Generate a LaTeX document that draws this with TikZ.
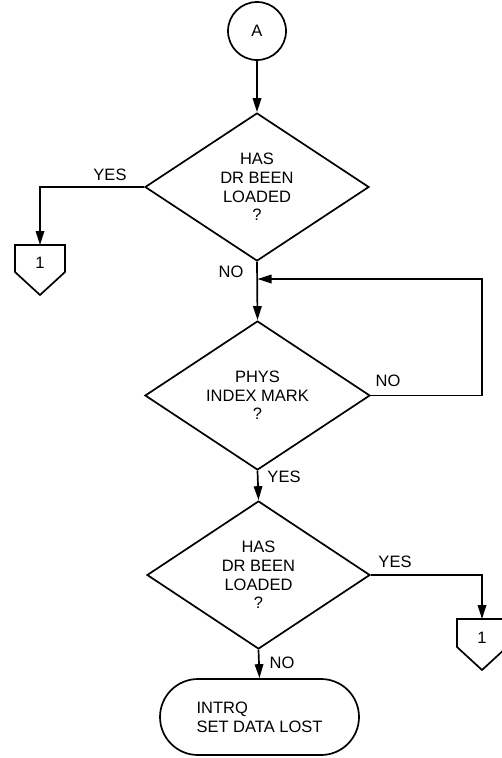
\documentclass[tikz,border=0pt]{standalone}
\usepackage{fontspec}
\setmainfont{Liberation Sans}
\usetikzlibrary{shapes.geometric,shapes.misc,arrows.meta}
\begin{document}
\begin{tikzpicture}[x=1pt,y=-1pt,
  line width=1.7pt,
  every node/.style={font=\fontsize{16.5}{18.7}\selectfont},
  flow/.style={-{Triangle[length=14pt,width=8.5pt]}},
  decision/.style={diamond,draw,inner sep=0pt,aspect=1.5,align=center},
  connect/.style={circle,draw,minimum size=58pt,inner sep=0pt},
  term/.style={rounded rectangle,draw,minimum width=199pt,minimum height=76pt,align=left,inner sep=0pt},
  lbl/.style={inner sep=0pt}
]
\useasboundingbox (0,0) rectangle (502,758);

\node[connect] (A) at (257,31) {A};
\node[decision,minimum width=224pt,minimum height=148pt] (d1) at (257,187) {HAS\\DR BEEN\\LOADED\\?};
\node[decision,minimum width=225pt,minimum height=149pt] (d2) at (257.5,395.5) {PHYS\\INDEX MARK\\?};
\node[decision,minimum width=223pt,minimum height=148pt] (d3) at (258.5,575) {HAS\\DR BEEN\\LOADED\\?};
\node[term] (t) at (259.5,717) {INTRQ\\SET DATA LOST};

% off-page connectors
\coordinate (p1) at (40,245);
\draw (p1) ++(-25,0) -- ++(50,0) -- ++(0,27) -- ++(-25,23) -- ++(-25,-23) -- cycle;
\node[lbl] (p1t) at (40,263) {1};
\coordinate (p2) at (482,619);
\draw (p2) ++(-25,0) -- ++(50,0) -- ++(0,28) -- ++(-25,23) -- ++(-25,-23) -- cycle;
\node[lbl] (p2t) at (482,638) {1};

\coordinate (lp) at (482,279);
\coordinate (lm) at (257.5,279);

\draw[flow] (A) -- (d1.north);
\draw[flow] (d1.west) -| (p1);
\draw[flow] (d1.south) -- (d2.north);
\draw[flow] (d2.east) -| (lp) -- (lm);
\draw[flow] (d2.south) -- (d3.north);
\draw[flow] (d3.east) -| (p2);
\draw[flow] (d3.south) -- (t.north);

\node[lbl] (l1) at (110,175) {YES};
\node[lbl] (l2) at (231,272) {NO};
\node[lbl] (l3) at (388,381) {NO};
\node[lbl] (l4) at (284,477) {YES};
\node[lbl] (l5) at (395,562) {YES};
\node[lbl] (l6) at (282,663) {NO};
\end{tikzpicture}
\end{document}
